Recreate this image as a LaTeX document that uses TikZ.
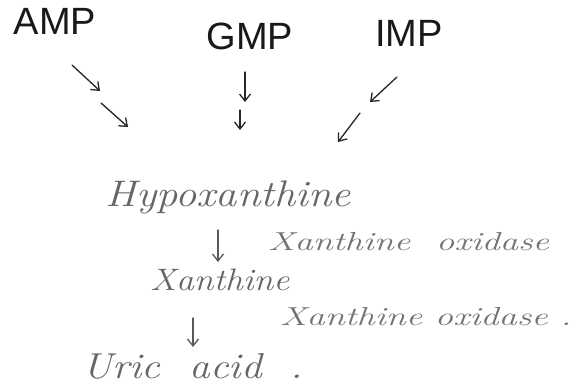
\documentclass[tikz,border=0pt]{standalone}
\usepackage{fontspec}
\setmainfont{Liberation Sans}
\newfontfamily\handfont[FakeStretch=1.15]{Latin Modern Roman}
\newfontfamily\enzfont[FakeStretch=1.4]{Latin Modern Roman}
\usetikzlibrary{arrows.meta}
\begin{document}
\begin{tikzpicture}[x=1pt,y=-1pt,
  ink/.style={draw=black!85, line width=1.3pt, line cap=round,
    -{Straight Barb[length=7pt,width=11pt,line width=1.3pt]}},
  soft/.style={ink, draw=black!65},
  caps/.style={text=black!90, font=\fontsize{38}{40}\selectfont, inner sep=0pt},
  compound/.style={text=black!60, inner sep=0pt, anchor=base west},
  enzyme/.style={text=black!55, font=\enzfont\itshape\fontsize{26}{30}\selectfont,
    inner sep=0pt, anchor=base west}]
\useasboundingbox (0,0) rectangle (585,390);
\fill[white] (0,0) rectangle (585,390);

% precursor nucleotides
\node[caps] (amp) at (55,21) {AMP};
\node[caps] (gmp) at (250,36) {GMP};
\node[caps] (imp) at (409,33) {IMP};

% product chain
\node[compound, font=\handfont\itshape\fontsize{37}{40}\selectfont] (hypo) at (105,206) {Hypoxanthine};
\node[compound, font=\handfont\itshape\fontsize{31}{34}\selectfont] (xan) at (150,290) {Xanthine};
\node[compound, font=\handfont\itshape\fontsize{36}{40}\selectfont] (uric) at (82,378) {Uric\ \ acid\ \ .};

% enzyme labels
\node[enzyme] (e1) at (268,250) {Xanthine\quad oxidase};
\node[enzyme] (e2) at (280,325) {Xanthine oxidase .};

% broken arrows toward hypoxanthine
\coordinate (a1) at (72,65);   \coordinate (a2) at (100,91);
\coordinate (a3) at (101,103); \coordinate (a4) at (128,127);
\coordinate (g1) at (245,72);  \coordinate (g2) at (245,102);
\coordinate (g3) at (240,110); \coordinate (g4) at (240,130);
\coordinate (i1) at (397,77);  \coordinate (i2) at (370,102);
\coordinate (i3) at (360,113); \coordinate (i4) at (338,142);
\draw[ink] (a1) -- (a2);
\draw[ink] (a3) -- (a4);
\draw[ink] (g1) -- (g2);
\draw[ink] (g3) -- (g4);
\draw[ink] (i1) -- (i2);
\draw[ink] (i3) -- (i4);

% oxidation steps
\coordinate (h1) at (218,230); \coordinate (h2) at (218,262);
\coordinate (x1) at (193,318); \coordinate (x2) at (193,347);
\draw[soft] (h1) -- (h2);
\draw[soft] (x1) -- (x2);
\end{tikzpicture}
\end{document}
